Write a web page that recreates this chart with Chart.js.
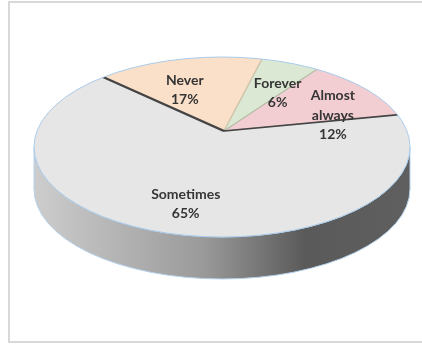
<!DOCTYPE html>
<html>
<head>
<meta charset="utf-8">
<script src="https://cdn.jsdelivr.net/npm/chart.js@4.4.1/dist/chart.umd.min.js"></script>
<style>
  html, body { margin: 0; padding: 0; background: #fff; }
  #wrap { width: 422px; height: 345px; }
</style>
</head>
<body>
<div id="wrap"><canvas id="pie" width="422" height="345"></canvas></div>
<script>
// data, clockwise from the Never slice
const categories = ['Never', 'Forever', 'Almost always', 'Sometimes'];
const shares = [17, 6, 12, 65];

// slice colours
const fills = ['#fbe0c9', '#dbe9d4', '#f2cdd2', '#e6e6e6'];
const edges = ['#e3cfb6', '#cfc6ad', '#b3bfa6', '#444444'];

// 3D view of the pie (top face ellipse, apex where slices meet, wall depth)
const VIEW = { cx: 222, cy: 147, rx: 188, ry: 90, apexX: 224, apexY: 131, depth: 42 };

const pie3d = {
  id: 'pie3d',
  beforeDatasetsDraw(chart) {
    const ctx = chart.ctx;
    const arcs = chart.getDatasetMeta(0).data;
    const { cx, cy, rx, ry, apexX, apexY, depth } = VIEW;

    // side wall
    ctx.save();
    const g = ctx.createLinearGradient(cx - rx, 0, cx + rx, 0);
    g.addColorStop(0, '#cdcdcd');
    g.addColorStop(0.45, '#9a9a9a');
    g.addColorStop(0.72, '#5a5a5a');
    g.addColorStop(1, '#5f5f5f');
    ctx.beginPath();
    ctx.ellipse(cx, cy, rx, ry, 0, 0, Math.PI);
    ctx.lineTo(cx - rx, cy + depth);
    ctx.ellipse(cx, cy + depth, rx, ry, 0, Math.PI, 0, true);
    ctx.closePath();
    ctx.fillStyle = g;
    ctx.fill();
    ctx.strokeStyle = '#b4d2ee';
    ctx.lineWidth = 1;
    ctx.stroke();
    ctx.restore();

    // top face: the library's arcs, squashed and clipped to the ellipse
    const a = arcs[0];
    const s = 1.5 * rx / a.outerRadius;
    ctx.save();
    ctx.beginPath();
    ctx.ellipse(cx, cy, rx, ry, 0, 0, 2 * Math.PI);
    ctx.clip();
    ctx.translate(apexX, apexY);
    ctx.scale(s, s * ry / rx);
    ctx.translate(-a.x, -a.y);
    arcs.forEach(arc => arc.draw(ctx));
    ctx.restore();

    ctx.save();
    ctx.beginPath();
    ctx.ellipse(cx, cy, rx, ry, 0, 0, 2 * Math.PI);
    ctx.strokeStyle = '#a9cbea';
    ctx.lineWidth = 1;
    ctx.stroke();
    ctx.restore();
    return false;
  },
  afterDraw(chart) {
    const ctx = chart.ctx;
    const arcs = chart.getDatasetMeta(0).data;
    const values = chart.data.datasets[0].data;
    const total = values.reduce((p, v) => p + v, 0);
    const { cx, cy, rx, ry } = VIEW;

    // chart frame
    ctx.save();
    ctx.strokeStyle = '#d9d9d9';
    ctx.lineWidth = 2;
    ctx.strokeRect(9, 2, 440, 340);
    ctx.restore();

    // data labels
    ctx.save();
    ctx.font = 'bold 14px Lato';
    ctx.fillStyle = '#353535';
    ctx.textAlign = 'center';
    ctx.textBaseline = 'middle';
    arcs.forEach((arc, i) => {
      const mid = (arc.startAngle + arc.endAngle) / 2;
      const x = cx + 0.7 * rx * Math.cos(mid);
      const y = cy + 0.66 * ry * Math.sin(mid);
      const name = chart.data.labels[i];
      const lines = name.length > 8 ? name.split(' ') : [name];
      lines.push(Math.round(values[i] / total * 100) + '%');
      const lh = 19.5;
      const top = y - (lines.length - 1) * lh / 2;
      lines.forEach((t, k) => ctx.fillText(t, x, top + k * lh));
    });
    ctx.restore();
  }
};

new Chart(document.getElementById('pie').getContext('2d'), {
  type: 'pie',
  data: {
    labels: categories,
    datasets: [{
      data: shares,
      backgroundColor: fills,
      borderColor: edges,
      borderWidth: [1, 1, 1, 2.2]
    }]
  },
  options: {
    responsive: false,
    animation: false,
    rotation: -47,
    plugins: { legend: { display: false }, tooltip: { enabled: false } }
  },
  plugins: [pie3d]
});
</script>
</body>
</html>
